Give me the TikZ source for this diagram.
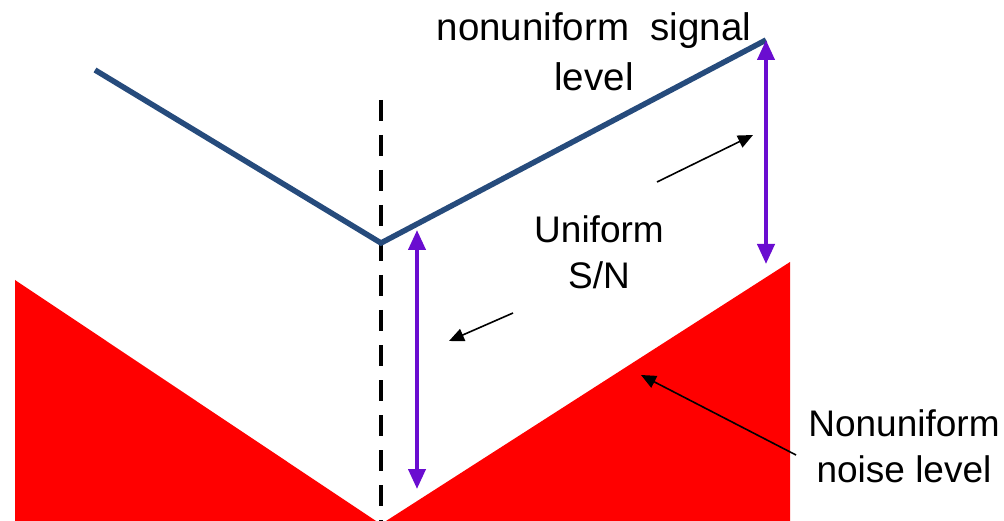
\documentclass[tikz,border=0pt]{standalone}
\usepackage{fontspec}
\setmainfont{Liberation Sans}
\usetikzlibrary{arrows.meta}
\definecolor{sigblue}{HTML}{264B7C}
\definecolor{snpurple}{HTML}{6A0DD0}
\definecolor{noisered}{HTML}{FF0000}
\tikzset{
  signal/.style={draw=sigblue,line width=5.5pt,line join=miter},
  noise/.style={fill=noisered,draw=none},
  divider/.style={draw=black,line width=4.5pt,dash pattern=on 21pt off 14pt},
  snarrow/.style={draw=snpurple,line width=4pt,{Triangle[length=20pt,width=17pt]}-{Triangle[length=20pt,width=17pt]}},
  pointer/.style={draw=black,line width=1.6pt,-{Triangle[length=15pt,width=13pt]}},
  lbl/.style={font=\fontsize{37}{46}\selectfont,align=center,inner sep=0pt},
  toplbl/.style={font=\fontsize{38.5}{50}\selectfont,align=center,inner sep=0pt}
}
\begin{document}
\begin{tikzpicture}[x=1pt,y=-1pt]
\useasboundingbox (0,0) rectangle (1004,521);
% noise triangles
\fill[noise] (15,280) -- (15,521) -- (376,521) -- cycle;
\fill[noise] (386,521) -- (790,262) -- (790,521) -- cycle;
% divider
\coordinate (dtop) at (381,100);
\coordinate (dbot) at (381,521);
\draw[divider] (dtop) -- (dbot);
% signal
\coordinate (s1) at (95,70);
\coordinate (s2) at (381,243);
\coordinate (s3) at (766,40);
\draw[signal] (s1) -- (s2) -- (s3);
% S/N arrows
\coordinate (a1t) at (417,230);
\coordinate (a1b) at (417,489);
\draw[snarrow] (a1t) -- (a1b);
\coordinate (a2t) at (766,40);
\coordinate (a2b) at (766,264);
\draw[snarrow] (a2t) -- (a2b);
% labels
\node[toplbl] (sig) at (594,52) {nonuniform\ \ signal\\level};
\node[lbl] (sn) at (599,252) {Uniform\\S/N};
\node[lbl] (nl) at (904,446) {Nonuniform\\noise level};
% pointers
\coordinate (p1s) at (657,182);
\coordinate (p1e) at (753,135);
\draw[pointer] (p1s) -- (p1e);
\coordinate (p2s) at (513,313);
\coordinate (p2e) at (449,341);
\draw[pointer] (p2s) -- (p2e);
\coordinate (p3s) at (796,455);
\coordinate (p3e) at (641,375);
\draw[pointer] (p3s) -- (p3e);
\end{tikzpicture}
\end{document}
